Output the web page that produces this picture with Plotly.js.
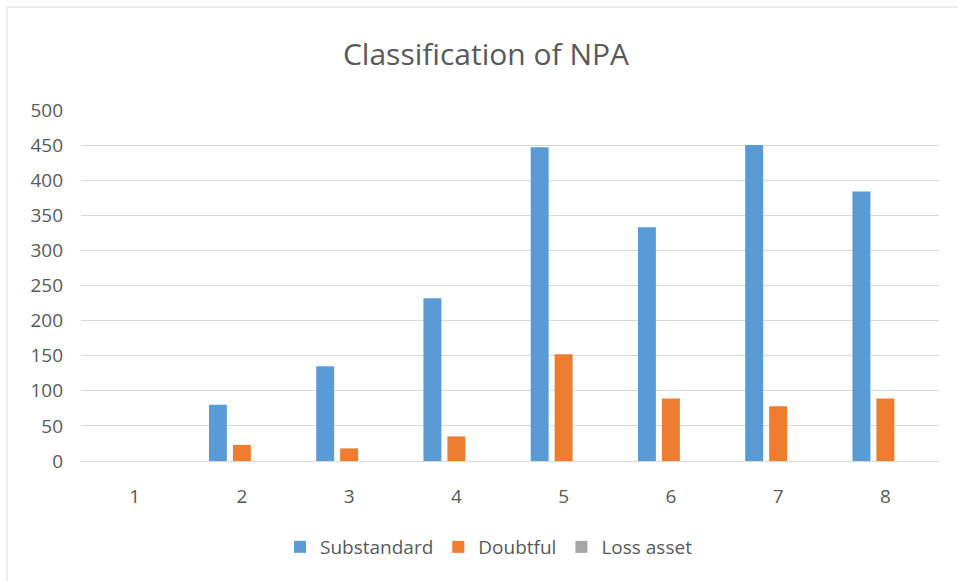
<!DOCTYPE html>
<html>
<head>
<meta charset="utf-8">
<script src="https://cdn.plot.ly/plotly-3.0.1.min.js"></script>
<style>html,body{margin:0;padding:0;background:#fff;}#chart{width:958px;height:581px;}</style>
</head>
<body>
<div id="chart"></div>
<script>
const categories = ["1", "2", "3", "4", "5", "6", "7", "8"];
const substandard = [0, 80, 135, 232, 447, 333, 450, 384];
const doubtful = [0, 23, 18, 35, 152, 89, 78, 89];
const lossAsset = [0, 0, 0, 0, 0, 0, 0, 0];
const seriesNames = ["Substandard", "Doubtful", "Loss asset"];
const yTicks = [0, 50, 100, 150, 200, 250, 300, 350, 400, 450, 500];

const colors = ["#5B9BD5", "#ED7D31", "#A5A5A5"];
const values = [substandard, doubtful, lossAsset];
const font = "Open Sans, Noto Sans, sans-serif";

const data = values.map((v, i) => ({
  type: "bar",
  name: seriesNames[i],
  x: categories,
  y: v,
  marker: {color: colors[i]},
  hoverinfo: "x+y+name"
}));

const layout = {
  width: 958,
  height: 581,
  paper_bgcolor: "#ffffff",
  plot_bgcolor: "#ffffff",
  margin: {l: 81, r: 19, t: 110, b: 120},
  barmode: "group",
  bargap: 0.33,
  bargroupgap: 0.25,
  font: {family: font, color: "#595959"},
  title: {
    text: "Classification of NPA",
    font: {family: font, size: 30, color: "#595959"},
    x: 486 / 958,
    xref: "container",
    xanchor: "center",
    y: 1 - 54 / 581,
    yref: "container",
    yanchor: "middle"
  },
  xaxis: {
    type: "category",
    showgrid: false,
    showline: true,
    linecolor: "#d9d9d9",
    linewidth: 1,
    ticks: "",
    ticklabelstandoff: 18,
    tickfont: {family: font, size: 19, color: "#595959"}
  },
  yaxis: {
    range: [0, 500],
    tickvals: yTicks,
    ticktext: yTicks.map(String),
    showgrid: true,
    gridcolor: "#d9d9d9",
    gridwidth: 1,
    zeroline: false,
    showline: false,
    ticks: "",
    ticklabelstandoff: 17,
    tickfont: {family: font, size: 19, color: "#595959"}
  },
  legend: {
    orientation: "h",
    x: 489 / 958,
    xref: "container",
    xanchor: "center",
    y: 1 - 547 / 581,
    yref: "container",
    yanchor: "middle",
    font: {family: font, size: 19, color: "#595959"},
    itemwidth: 30,
    tracegroupgap: 0
  },
  shapes: [{
    type: "rect",
    xref: "paper", yref: "paper",
    x0: (7 - 81) / 858, x1: 1.5,
    y0: -1, y1: (461 - 7) / 351,
    line: {color: "#d9d9d9", width: 1},
    fillcolor: "rgba(0,0,0,0)",
    layer: "below"
  }]
};

Plotly.newPlot("chart", data, layout, {displayModeBar: false, staticPlot: true});
</script>
</body>
</html>
